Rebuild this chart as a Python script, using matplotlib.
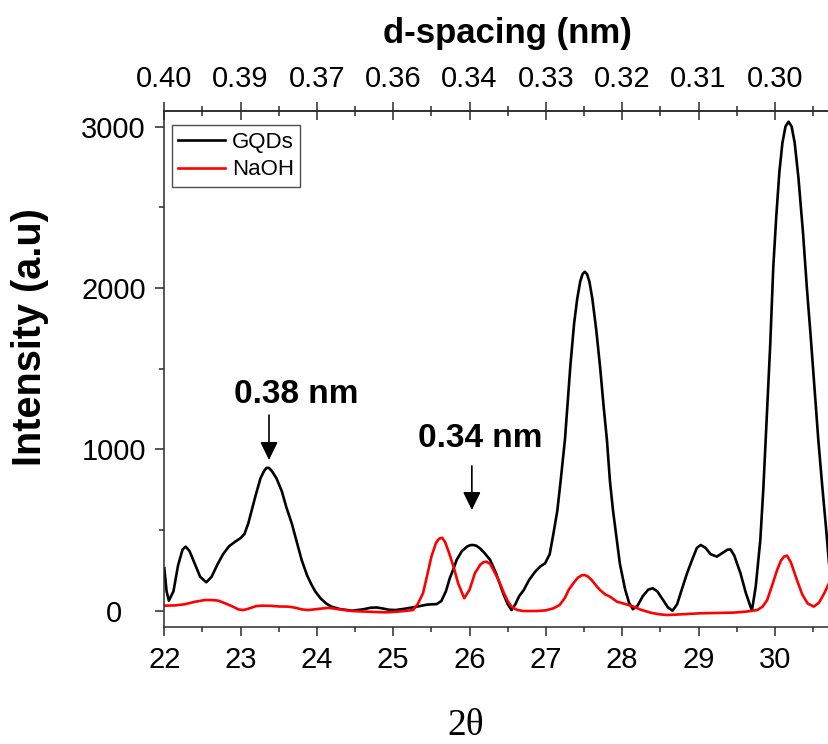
import matplotlib
matplotlib.use("Agg")
import matplotlib.pyplot as plt
from matplotlib.ticker import MultipleLocator, FixedLocator

plt.rcParams['font.family'] = ['Liberation Sans', 'DejaVu Sans']

# ---------------- data ----------------
gqd_2theta = [22.00, 22.03, 22.06, 22.12, 22.18, 22.24, 22.28, 22.33, 22.40, 22.47,
              22.55, 22.62, 22.70, 22.77, 22.85, 22.93, 23.00, 23.05, 23.10, 23.15,
              23.20, 23.26, 23.31, 23.34, 23.37, 23.41, 23.47, 23.54, 23.60, 23.67,
              23.74, 23.80, 23.87, 23.93, 23.98, 24.05, 24.12, 24.19, 24.30, 24.46,
              24.60, 24.70, 24.78, 24.86, 24.94, 25.03, 25.15, 25.31, 25.45, 25.57,
              25.63, 25.69, 25.74, 25.79, 25.83, 25.90, 25.97, 26.01, 26.05, 26.09,
              26.14, 26.20, 26.27, 26.34, 26.40, 26.44, 26.50, 26.55, 26.60, 26.65,
              26.71, 26.78, 26.86, 26.93, 26.99, 27.05, 27.10, 27.15, 27.19, 27.25,
              27.32, 27.37, 27.41, 27.45, 27.48, 27.51, 27.54, 27.57, 27.61, 27.66,
              27.71, 27.76, 27.80, 27.84, 27.88, 27.93, 27.97, 28.04, 28.09, 28.14,
              28.20, 28.27, 28.34, 28.40, 28.46, 28.53, 28.60, 28.66, 28.72, 28.78,
              28.85, 28.92, 28.98, 29.03, 29.09, 29.16, 29.24, 29.32, 29.38, 29.42,
              29.47, 29.55, 29.62, 29.70, 29.75, 29.81, 29.85, 29.89, 29.94, 29.98,
              30.02, 30.06, 30.10, 30.14, 30.18, 30.22, 30.26, 30.31, 30.37, 30.42,
              30.47, 30.52, 30.57, 30.62, 30.67, 30.71]
gqd_intensity = [263, 120, 62, 120, 280, 380, 397, 370, 290, 210,
                 176, 210, 290, 350, 400, 428, 450, 475, 540, 630,
                 720, 820, 868, 885, 885, 865, 820, 740, 640, 541,
                 420, 314, 220, 160, 118, 75, 45, 25, 10, 0,
                 8, 18, 20, 14, 6, 4, 12, 25, 38, 41,
                 60, 120, 200, 260, 314, 370, 398, 406, 407, 402,
                 385, 355, 314, 240, 160, 108, 40, 4, 40, 90,
                 128, 190, 242, 275, 294, 350, 480, 620, 789, 1060,
                 1512, 1780, 1930, 2040, 2085, 2100, 2085, 2040, 1930, 1740,
                 1512, 1250, 1058, 800, 620, 438, 290, 128, 50, 9,
                 30, 90, 130, 139, 120, 70, 20, 0, 40, 130,
                 232, 320, 390, 407, 390, 350, 335, 360, 378, 380,
                 340, 232, 110, 0, 150, 438, 760, 1150, 1650, 2131,
                 2450, 2720, 2900, 3000, 3030, 3000, 2900, 2680, 2338, 2000,
                 1700, 1380, 1058, 780, 520, 294]

naoh_2theta = [22.00, 22.15, 22.27, 22.40, 22.53, 22.62, 22.71, 22.80, 22.90, 22.97,
               23.04, 23.12, 23.20, 23.28, 23.40, 23.50, 23.63, 23.72, 23.80, 23.89,
               24.00, 24.15, 24.30, 24.45, 24.60, 24.75, 24.89, 25.00, 25.15, 25.26,
               25.32, 25.39, 25.45, 25.50, 25.56, 25.60, 25.64, 25.68, 25.73, 25.79,
               25.85, 25.93, 26.00, 26.07, 26.14, 26.18, 26.22, 26.27, 26.32, 26.38,
               26.45, 26.50, 26.55, 26.62, 26.70, 26.88, 27.00, 27.10, 27.18, 27.25,
               27.30, 27.36, 27.42, 27.47, 27.51, 27.55, 27.60, 27.67, 27.71, 27.78,
               27.84, 27.93, 28.05, 28.15, 28.25, 28.37, 28.48, 28.59, 28.80, 29.03,
               29.25, 29.46, 29.62, 29.77, 29.84, 29.90, 29.96, 30.03, 30.08, 30.12,
               30.16, 30.21, 30.29, 30.36, 30.43, 30.51, 30.58, 30.65, 30.71]
naoh_intensity = [31, 33, 40, 55, 66, 66, 62, 45, 25, 8,
                  4, 15, 28, 31, 30, 26, 25, 18, 8, 4,
                  10, 18, 8, -2, -5, -8, -10, -8, -2, 4,
                  40, 108, 230, 335, 420, 446, 452, 425, 360, 273,
                  170, 77, 130, 232, 285, 300, 304, 290, 245, 190,
                  110, 60, 25, 5, -2, -2, 2, 15, 35, 80,
                  130, 170, 205, 219, 221, 212, 190, 149, 128, 100,
                  87, 56, 40, 25, 5, -12, -22, -27, -22, -16,
                  -14, -12, -6, 4, 25, 66, 150, 252, 310, 335,
                  341, 300, 190, 100, 45, 25, 50, 110, 170]

series_labels = ["GQDs", "NaOH"]
series_colors = ["black", "red"]

x_ticks = [22, 23, 24, 25, 26, 27, 28, 29, 30]
x_ticklabels = ["22", "23", "24", "25", "26", "27", "28", "29", "30"]
d_ticklabels = ["0.40", "0.39", "0.37", "0.36", "0.34", "0.33", "0.32", "0.31", "0.30"]
y_ticks = [0, 1000, 2000, 3000]
y_ticklabels = ["0", "1000", "2000", "3000"]

annot_texts = ["0.38 nm", "0.34 nm"]
annot_text_pos = [(23.726, 1285), (26.144, 1016)]
arrow_tails = [(23.372, 1212), (26.03, 897)]
arrow_tips = [(23.372, 934), (26.03, 624)]

# ---------------- figure ----------------
W, H = 829, 744
fig = plt.figure(figsize=(W / 100, H / 100), dpi=100)
left_px, right_px, top_px, bottom_px = 164.3, 829.0, 110.7, 626.5
ax = fig.add_axes([left_px / W, 1 - bottom_px / H,
                   (right_px - left_px) / W, (bottom_px - top_px) / H])

ax.plot(gqd_2theta, gqd_intensity, color=series_colors[0], lw=1.9,
        label=series_labels[0], solid_joinstyle='round')
ax.plot(naoh_2theta, naoh_intensity, color=series_colors[1], lw=1.9,
        label=series_labels[1], solid_joinstyle='round')

ax.set_xlim(22, 30.71)
ax.set_ylim(-98, 3098)

spine_col = '#2a2a2a'
for s in ['left', 'bottom', 'top']:
    ax.spines[s].set_color(spine_col)
    ax.spines[s].set_linewidth(1.1)
ax.spines['right'].set_visible(False)

ax.xaxis.set_major_locator(FixedLocator(x_ticks))
ax.set_xticklabels(x_ticklabels)
ax.xaxis.set_minor_locator(MultipleLocator(0.5))
ax.yaxis.set_major_locator(FixedLocator(y_ticks))
ax.set_yticklabels(y_ticklabels)
ax.yaxis.set_minor_locator(MultipleLocator(500))

ax.tick_params(axis='both', which='major', direction='out', length=6.5,
               width=1.1, color=spine_col, labelsize=21)
ax.tick_params(axis='both', which='minor', direction='out', length=3.6,
               width=1.1, color=spine_col)
ax.tick_params(axis='x', which='major', pad=7.5)
ax.tick_params(axis='y', which='major', pad=30)
ax.tick_params(top=False, right=False, which='both')
for lab in ax.get_yticklabels():
    lab.set_horizontalalignment('center')

# top axis (d-spacing)
ax2 = ax.twiny()
ax2.set_xlim(ax.get_xlim())
ax2.xaxis.set_major_locator(FixedLocator(x_ticks))
ax2.set_xticklabels(d_ticklabels)
ax2.xaxis.set_minor_locator(MultipleLocator(0.5))
ax2.tick_params(axis='x', which='major', direction='inout', length=13,
                width=1.1, color=spine_col, labelsize=21, pad=6.5)
ax2.tick_params(axis='x', which='minor', direction='inout', length=6.5,
                width=1.1, color=spine_col)
for s in ['left', 'bottom', 'right']:
    ax2.spines[s].set_visible(False)
ax2.spines['top'].set_color(spine_col)
ax2.spines['top'].set_linewidth(1.1)

# axis titles
fig.text(507 / W, 1 - 33 / H, "d-spacing (nm)", fontsize=25, fontweight='bold',
         ha='center', va='center')
fig.text(30 / W, 1 - 337 / H, "Intensity (a.u)", fontsize=28.5, fontweight='bold',
         ha='center', va='center', rotation=90)
fig.text(466 / W, 1 - 726 / H, "2θ", fontsize=27, family=['Liberation Serif', 'DejaVu Serif'],
         ha='center', va='center')

# annotations
for txt, pos in zip(annot_texts, annot_text_pos):
    ax.text(pos[0], pos[1], txt, fontsize=24, fontweight='bold',
            ha='center', va='baseline')
for tail, tip in zip(arrow_tails, arrow_tips):
    ax.annotate('', xy=tip, xytext=tail,
                arrowprops=dict(arrowstyle='-|>,head_length=0.55,head_width=0.27',
                                mutation_scale=20, lw=1.2, color='black',
                                shrinkA=0, shrinkB=0))

leg = ax.legend(loc='upper left', bbox_to_anchor=(0.0111, 0.972), borderaxespad=0,
                fontsize=16, frameon=True, fancybox=False, handlelength=2.1,
                handletextpad=0.3, borderpad=0.3, labelspacing=0.3)
leg.get_frame().set_edgecolor('#222222')
leg.get_frame().set_linewidth(1.0)

fig.savefig("out.png", dpi=100)
